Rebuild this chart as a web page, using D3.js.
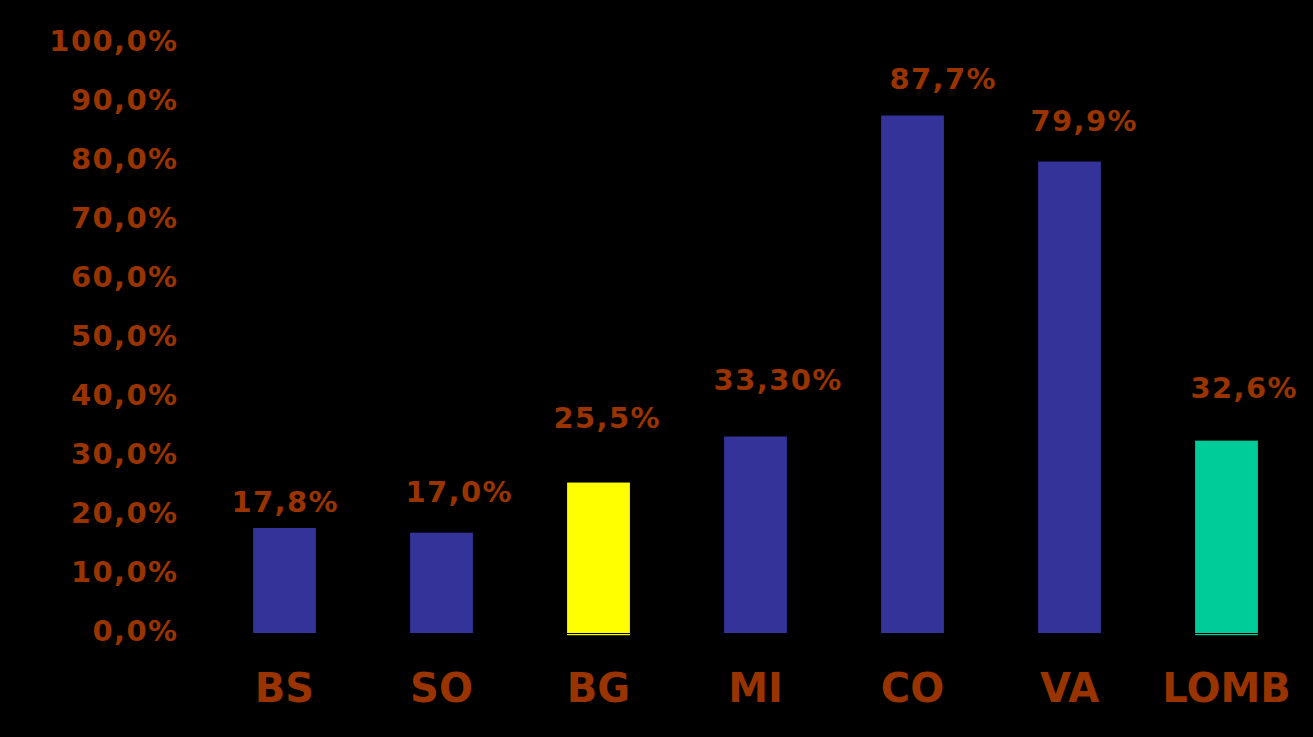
<!DOCTYPE html>
<html><head><meta charset="utf-8">
<script src="https://cdn.jsdelivr.net/npm/d3@7"></script>
<style>html,body{margin:0;padding:0;background:#000;}</style>
</head><body>
<svg id="chart" width="1313" height="737"></svg>
<script>
const categories = ["BS", "SO", "BG", "MI", "CO", "VA", "LOMB"];
const values = [17.8, 17.0, 25.5, 33.3, 87.7, 79.9, 32.6];
const valueLabels = ["17,8%", "17,0%", "25,5%", "33,30%", "87,7%", "79,9%", "32,6%"];
const barColors = ["#333399", "#333399", "#FFFF00", "#333399", "#333399", "#333399", "#00CC99"];
const tickValues = [0, 10, 20, 30, 40, 50, 60, 70, 80, 90, 100];
const tickLabels = ["0,0%", "10,0%", "20,0%", "30,0%", "40,0%", "50,0%", "60,0%", "70,0%", "80,0%", "90,0%", "100,0%"];

// label layout nudges (presentation only)
const labelDx = [0, 17, 8, 22, 30, 14, 17];
const labelGap = [16, 31, 55, 47, 27, 31, 43];
const baseLine = [false, false, true, false, false, false, true];

const W = 1313, H = 737;
const textColor = "#993300";
const svg = d3.select("#chart");
svg.append("rect").attr("width", W).attr("height", H).attr("fill", "#000");

const x = d3.scaleBand().domain(categories).range([206, 1305]).paddingInner(0.6).paddingOuter(0.3);
const y = d3.scaleLinear().domain([0, 100]).range([633, 43]);

// y axis labels
const yAxis = d3.axisLeft(y).tickValues(tickValues).tickFormat((d, i) => tickLabels[i]).tickSize(0).tickPadding(0);
const gy = svg.append("g").attr("transform", "translate(178.5,0)").call(yAxis);
gy.select(".domain").remove();
gy.selectAll("text").attr("fill", textColor).attr("font-family", "DejaVu Sans").attr("font-weight", "bold")
  .attr("font-size", 29).attr("letter-spacing", "1.4px").attr("dy", "0.26em");

// x axis labels
const xAxis = d3.axisBottom(x).tickSize(0).tickPadding(0);
const gx = svg.append("g").attr("transform", "translate(0,702)").call(xAxis);
gx.select(".domain").remove();
gx.selectAll("text").attr("fill", textColor).attr("font-family", "DejaVu Sans").attr("font-weight", "bold")
  .attr("font-size", 40).attr("dy", 0);

// bars
svg.append("g").selectAll("rect").data(values).join("rect")
  .attr("x", (d, i) => x(categories[i]))
  .attr("y", d => y(d))
  .attr("width", x.bandwidth())
  .attr("height", d => y(0) - y(d))
  .attr("fill", (d, i) => barColors[i]);

svg.append("g").selectAll("rect").data(values.map((v, i) => i).filter(i => baseLine[i])).join("rect")
  .attr("x", i => x(categories[i]))
  .attr("y", y(0) + 1)
  .attr("width", x.bandwidth())
  .attr("height", 1.2)
  .attr("fill", i => barColors[i]);

// value labels
svg.append("g").selectAll("text").data(values).join("text")
  .attr("x", (d, i) => x(categories[i]) + x.bandwidth() / 2 + labelDx[i] + 0.7)
  .attr("y", (d, i) => y(d) - labelGap[i])
  .attr("text-anchor", "middle")
  .attr("fill", textColor).attr("font-family", "DejaVu Sans").attr("font-weight", "bold")
  .attr("font-size", 29).attr("letter-spacing", "1.4px")
  .text((d, i) => valueLabels[i]);
</script>
</body></html>
